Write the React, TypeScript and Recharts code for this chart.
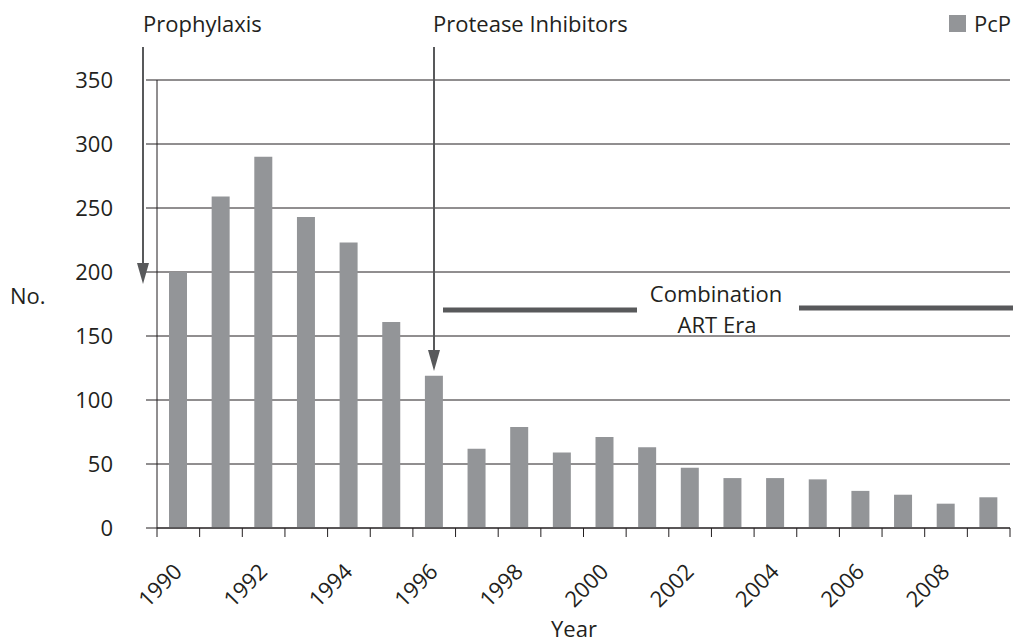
import { BarChart, Bar, XAxis, YAxis, CartesianGrid } from 'recharts'

const years = [
  '1990', '1991', '1992', '1993', '1994', '1995', '1996', '1997', '1998', '1999',
  '2000', '2001', '2002', '2003', '2004', '2005', '2006', '2007', '2008', '2009',
]
const pcp = [200, 259, 290, 243, 223, 161, 119, 62, 79, 59, 71, 63, 47, 39, 39, 38, 29, 26, 19, 24]
const yTicks = [0, 50, 100, 150, 200, 250, 300, 350]

const data = years.map((year, i) => ({ year, pcp: pcp[i] }))

const W = 1013
const H = 642
const MARGIN = { top: 80, right: 3, left: 0, bottom: 0 }
const Y_AXIS_W = 157
const BAND = (W - Y_AXIS_W - MARGIN.right) / years.length

const FONT = '"Open Sans", "Noto Sans", sans-serif'
const INK = '#231f20'
const BAR = '#939598'
const DARK = '#58595b'

function YearTick(props: any) {
  const { x, y, payload, index } = props
  const half = BAND / 2
  const last = index === years.length - 1
  const tx = x + 5
  const ty = y + 45
  return (
    <g>
      <line x1={x - half} y1={y} x2={x - half} y2={y + 9} stroke={INK} strokeWidth={1} />
      {last && <line x1={x + half} y1={y} x2={x + half} y2={y + 9} stroke={INK} strokeWidth={1} />}
      {index % 2 === 0 && (
        <text
          x={tx}
          y={ty}
          textAnchor="end"
          fill={INK}
          fontSize={22}
          fontFamily={FONT}
          transform={`rotate(-45 ${tx} ${ty})`}
        >
          {payload.value}
        </text>
      )}
    </g>
  )
}

export default function App() {
  return (
    <div style={{ position: 'absolute', left: 0, top: 0, width: W, height: H, background: '#fff' }}>
      <BarChart width={W} height={H} data={data} margin={MARGIN}>
        <CartesianGrid vertical={false} stroke={INK} />
        <XAxis
          dataKey="year"
          interval={0}
          height={H - MARGIN.top - 448}
          tickLine={false}
          tickSize={0}
          tickMargin={0}
          stroke={INK}
          tick={<YearTick />}
        />
        <YAxis
          domain={[0, 350]}
          ticks={yTicks}
          width={Y_AXIS_W}
          tickSize={11}
          tickMargin={33}
          stroke={INK}
          tick={{ fill: INK, fontSize: 22, fontFamily: FONT }}
        />
        <Bar dataKey="pcp" fill={BAR} barSize={18} isAnimationActive={false} />
      </BarChart>

      <svg
        width={W}
        height={H}
        style={{ position: 'absolute', left: 0, top: 0, pointerEvents: 'none' }}
        fontFamily={FONT}
        fontSize={22}
        fill={INK}
      >
        {/* annotation arrows */}
        <text x={143} y={32}>Prophylaxis</text>
        <line x1={143} y1={47} x2={143} y2={266} stroke={DARK} strokeWidth={2} />
        <polygon points="137,263 149,263 143,284" fill={DARK} />

        <text x={433} y={32}>Protease Inhibitors</text>
        <line x1={434} y1={47} x2={434} y2={352} stroke={DARK} strokeWidth={2} />
        <polygon points="428,350 440,350 434,371" fill={DARK} />

        {/* combination ART era bracket */}
        <line x1={443} y1={310} x2={637} y2={310} stroke={DARK} strokeWidth={5} />
        <line x1={799} y1={308} x2={W} y2={308} stroke={DARK} strokeWidth={5} />
        <text x={716} y={302} textAnchor="middle">Combination</text>
        <text x={717} y={333} textAnchor="middle">ART Era</text>

        {/* legend */}
        <rect x={949} y={15} width={17} height={17} fill={BAR} />
        <text x={974} y={32}>PcP</text>

        {/* axis titles */}
        <text x={10} y={304}>No.</text>
        <text x={574} y={637} textAnchor="middle">Year</text>
      </svg>
    </div>
  )
}
